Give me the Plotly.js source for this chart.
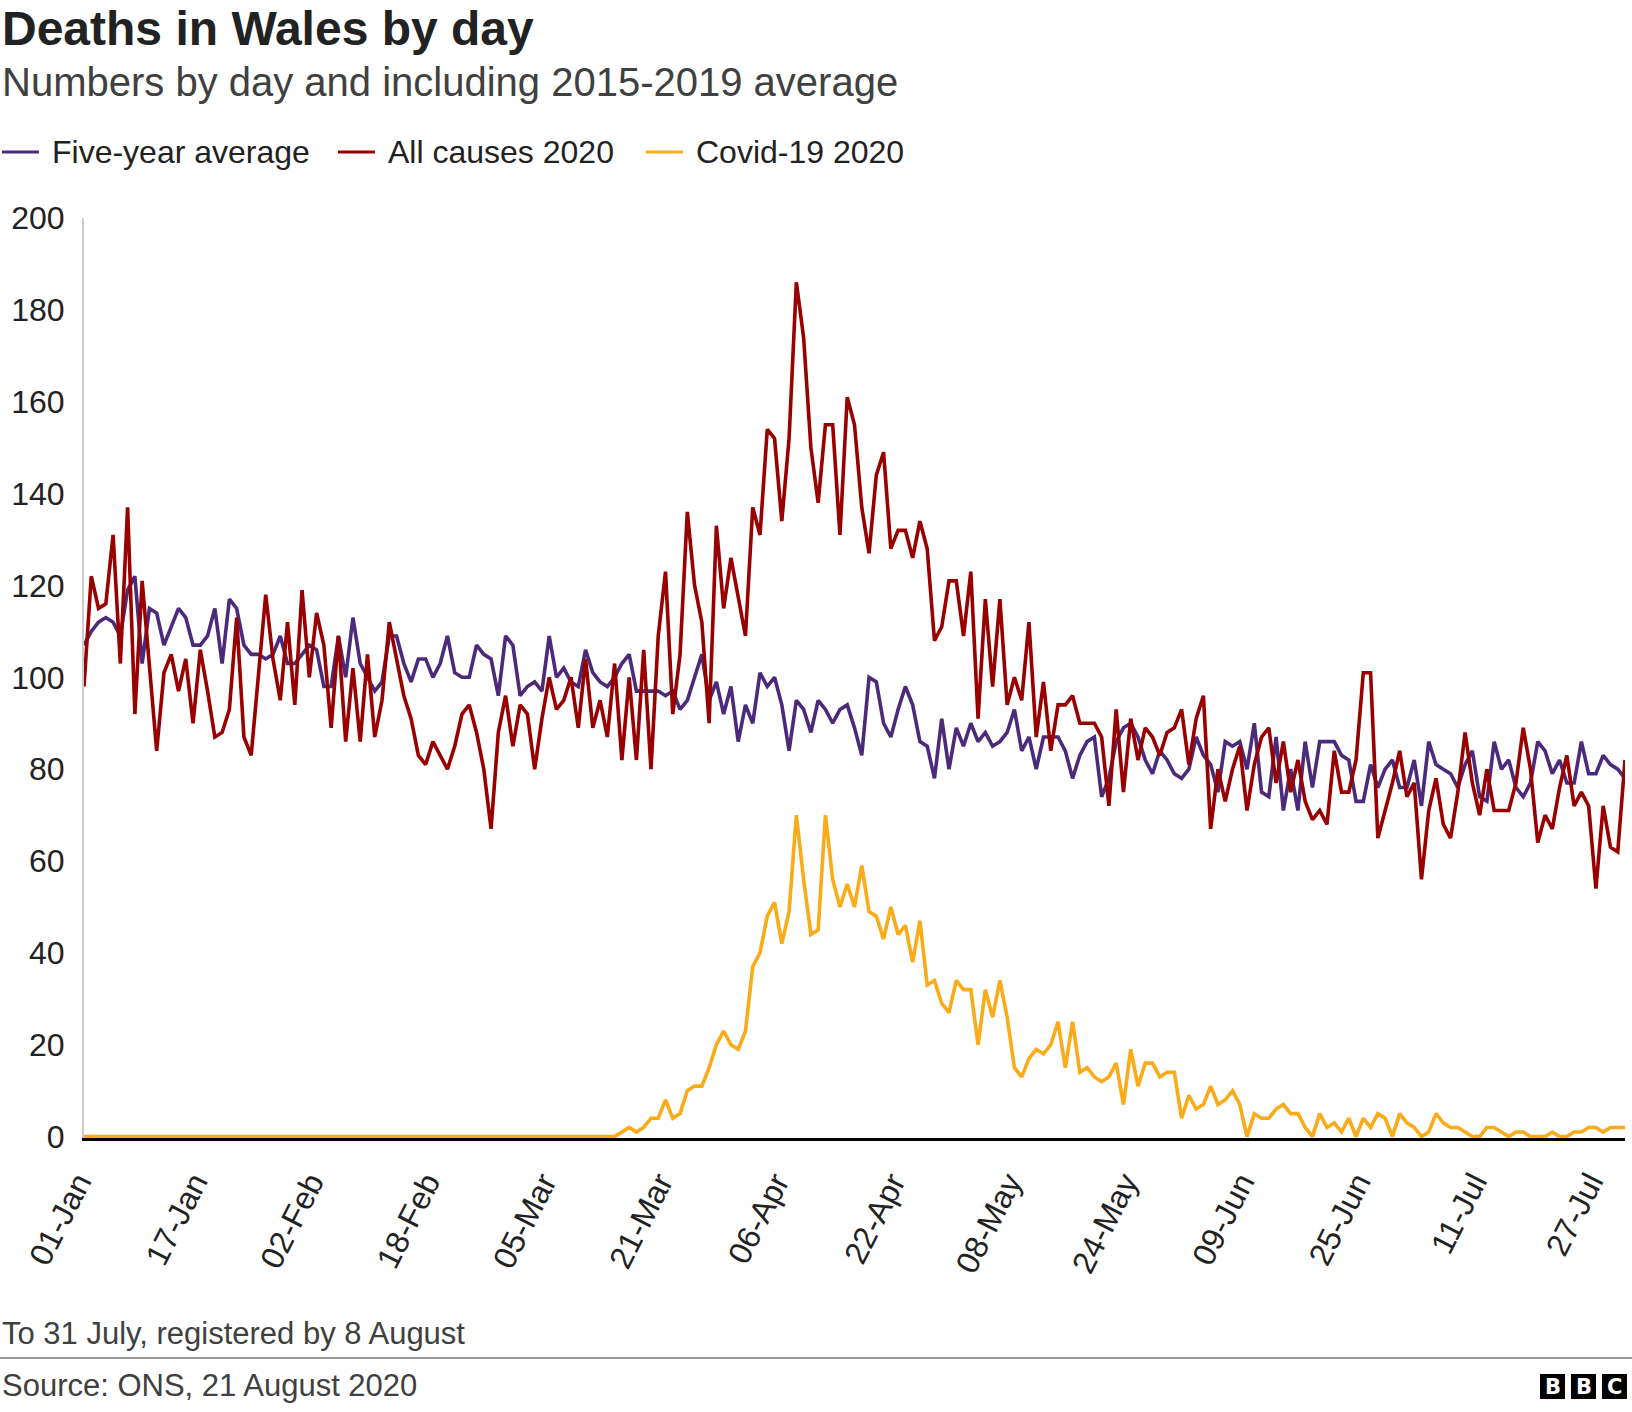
<!DOCTYPE html>
<html>
<head>
<meta charset="utf-8">
<script src="https://cdn.plot.ly/plotly-3.0.1.min.js"></script>
<style>
  html, body { margin: 0; padding: 0; background: #ffffff; }
  #chart { width: 1632px; height: 1412px; }
</style>
</head>
<body>
<div id="chart"></div>
<script>
// daily deaths in Wales, 1 Jan - 31 Jul 2020
var tickDates = ['2020-01-01', '2020-01-17', '2020-02-02', '2020-02-18', '2020-03-05',
  '2020-03-21', '2020-04-06', '2020-04-22', '2020-05-08', '2020-05-24',
  '2020-06-09', '2020-06-25', '2020-07-11', '2020-07-27'];
var tickLabels = ['01-Jan', '17-Jan', '02-Feb', '18-Feb', '05-Mar', '21-Mar', '06-Apr',
  '22-Apr', '08-May', '24-May', '09-Jun', '25-Jun', '11-Jul', '27-Jul'];

var fiveYearAverage = [
  107, 110, 112, 113, 112, 109, 119, 122, 103, 115, 114, 107, 111, 115, 113, 107,
  107, 109, 115, 103, 117, 115, 107, 105, 105, 104, 105, 109, 103, 103, 105, 107,
  106, 98, 98, 109, 100, 113, 103, 100, 97, 99, 109, 109, 103, 99, 104, 104,
  100, 103, 109, 101, 100, 100, 107, 105, 104, 96, 109, 107, 96, 98, 99, 97,
  109, 100, 102, 99, 98, 106, 101, 99, 98, 100, 103, 105, 97, 97, 97, 97,
  96, 97, 93, 95, 100, 105, 95, 99, 92, 98, 86, 94, 90, 101, 98, 100,
  94, 84, 95, 93, 88, 95, 93, 90, 93, 94, 89, 83, 100, 99, 90, 87,
  93, 98, 94, 86, 85, 78, 91, 80, 89, 85, 90, 86, 88, 85, 86, 88,
  93, 84, 87, 80, 87, 87, 87, 84, 78, 83, 86, 87, 74, 78, 86, 89,
  90, 87, 82, 79, 84, 82, 79, 78, 80, 87, 83, 81, 75, 86, 85, 86,
  80, 90, 75, 74, 87, 71, 80, 71, 86, 76, 86, 86, 86, 83, 82, 73,
  73, 81, 76, 80, 82, 76, 76, 82, 72, 86, 81, 80, 79, 76, 81, 84,
  74, 73, 86, 80, 82, 76, 74, 77, 86, 84, 79, 82, 77, 77, 86, 79,
  79, 83, 81, 80, 78
];

var allCauses2020 = [
  98, 122, 115, 116, 131, 103, 137, 92, 121, 103, 84, 101, 105, 97, 104, 90,
  106, 97, 87, 88, 93, 113, 87, 83, 100, 118, 104, 95, 112, 94, 119, 100,
  114, 107, 89, 109, 86, 102, 86, 105, 87, 95, 112, 104, 96, 91, 83, 81,
  86, 83, 80, 85, 92, 94, 88, 80, 67, 88, 96, 85, 94, 92, 80, 91,
  100, 93, 95, 100, 89, 104, 89, 95, 87, 103, 82, 100, 82, 106, 80, 109,
  123, 92, 105, 136, 120, 112, 90, 133, 115, 126, 117, 109, 137, 131, 154, 152,
  134, 152, 186, 174, 150, 138, 155, 155, 131, 161, 155, 137, 127, 144, 149, 128,
  132, 132, 126, 134, 128, 108, 111, 121, 121, 109, 123, 91, 117, 98, 117, 94,
  100, 95, 112, 87, 99, 84, 94, 94, 96, 90, 90, 90, 87, 72, 93, 75,
  91, 82, 89, 87, 83, 88, 89, 93, 81, 91, 96, 67, 80, 73, 80, 85,
  71, 81, 87, 89, 77, 86, 75, 82, 73, 69, 71, 68, 84, 75, 75, 82,
  101, 101, 65, 71, 77, 84, 74, 77, 56, 71, 78, 68, 65, 75, 88, 77,
  70, 80, 71, 71, 71, 77, 89, 80, 64, 70, 67, 76, 83, 72, 75, 72,
  54, 72, 63, 62, 82
];

var covid2020 = [
  0, 0, 0, 0, 0, 0, 0, 0, 0, 0, 0, 0, 0, 0, 0, 0,
  0, 0, 0, 0, 0, 0, 0, 0, 0, 0, 0, 0, 0, 0, 0, 0,
  0, 0, 0, 0, 0, 0, 0, 0, 0, 0, 0, 0, 0, 0, 0, 0,
  0, 0, 0, 0, 0, 0, 0, 0, 0, 0, 0, 0, 0, 0, 0, 0,
  0, 0, 0, 0, 0, 0, 0, 0, 0, 0, 1, 2, 1, 2, 4, 4,
  8, 4, 5, 10, 11, 11, 15, 20, 23, 20, 19, 23, 37, 40, 48, 51,
  42, 49, 70, 56, 44, 45, 70, 56, 50, 55, 50, 59, 49, 48, 43, 50,
  44, 46, 38, 47, 33, 34, 29, 27, 34, 32, 32, 20, 32, 26, 34, 26,
  15, 13, 17, 19, 18, 20, 25, 15, 25, 14, 15, 13, 12, 13, 16, 7,
  19, 11, 16, 16, 13, 14, 14, 4, 9, 6, 7, 11, 7, 8, 10, 7,
  0, 5, 4, 4, 6, 7, 5, 5, 2, 0, 5, 2, 3, 1, 4, 0,
  4, 2, 5, 4, 0, 5, 3, 2, 0, 1, 5, 3, 2, 2, 1, 0,
  0, 2, 2, 1, 0, 1, 1, 0, 0, 0, 1, 0, 0, 1, 1, 2,
  2, 1, 2, 2, 2
];

// one date per day from 1 January
var days = [];
var first = Date.UTC(2020, 0, 1);
for (var i = 0; i < allCauses2020.length; i++) {
  days.push(new Date(first + i * 86400000).toISOString().slice(0, 10));
}

var W = 1632, H = 1412, L = 84, R = 7, T = 218, B = 274;
// page pixels -> paper coords, for the text around the plot
function px(x) { return (x - L) / (W - L - R); }
function py(y) { return (H - B - y) / (H - T - B); }

var FONT = 'Liberation Sans, Arial, Helvetica, sans-serif';

var traces = [
  {x: days, y: fiveYearAverage, name: 'Five-year average',
   mode: 'lines', type: 'scatter', showlegend: false,
   line: {color: '#4b2a7b', width: 3.6}},
  {x: days, y: allCauses2020, name: 'All causes 2020',
   mode: 'lines', type: 'scatter', showlegend: false,
   line: {color: '#990000', width: 3.6}},
  {x: days, y: covid2020, name: 'Covid-19 2020',
   mode: 'lines', type: 'scatter', showlegend: false,
   line: {color: '#fbab18', width: 3.6}}
];

var annotations = [
  {text: '<b>Deaths in Wales by day</b>', x: px(0), y: py(29),
   font: {size: 48, color: '#222222'}},
  {text: 'Numbers by day and including 2015-2019 average', x: px(0), y: py(82),
   font: {size: 40, color: '#404040'}},
  {text: 'To 31 July, registered by 8 August', x: px(0), y: py(1333),
   font: {size: 31, color: '#404040'}},
  {text: 'Source: ONS, 21 August 2020', x: px(0), y: py(1385),
   font: {size: 31, color: '#404040'}}
];

var shapes = [
  {type: 'line', xref: 'paper', yref: 'paper', x0: px(0), x1: px(W), y0: py(1358), y1: py(1358),
   line: {color: '#9a9a9a', width: 2}}
];

// legend drawn by hand so the spacing matches the BBC style
var legendLeft = [2, 338, 646];
traces.forEach(function(t, k) {
  var lx = legendLeft[k];
  shapes.push({type: 'line', xref: 'paper', yref: 'paper',
    x0: px(lx), x1: px(lx + 37), y0: py(152), y1: py(152),
    line: {color: t.line.color, width: 3}});
  annotations.push({text: t.name, x: px(lx + 48), y: py(152),
    font: {size: 32, color: '#222222'}});
});

annotations.forEach(function(a) {
  a.xref = 'paper'; a.yref = 'paper';
  a.xanchor = 'left'; a.yanchor = 'middle';
  a.showarrow = false;
});

// BBC blocks
var letters = ['B', 'B', 'C'];
for (var k = 0; k < 3; k++) {
  var bx = 1540 + k * 31;
  shapes.push({type: 'rect', xref: 'paper', yref: 'paper',
    x0: px(bx), x1: px(bx + 25), y0: py(1399), y1: py(1374),
    fillcolor: '#000000', line: {width: 0}});
  annotations.push({text: '<b>' + letters[k] + '</b>', xref: 'paper', yref: 'paper',
    x: px(bx + 12.5), y: py(1387), xanchor: 'center', yanchor: 'middle',
    showarrow: false, font: {size: 21, color: '#ffffff', family: 'DejaVu Sans, sans-serif'}});
}

var layout = {
  width: W, height: H,
  margin: {l: L, r: R, t: T, b: B},
  paper_bgcolor: '#ffffff', plot_bgcolor: '#ffffff',
  font: {family: FONT, color: '#222222', size: 32},
  showlegend: false,
  xaxis: {
    type: 'date', range: [days[0], days[days.length - 1]],
    tickmode: 'array', tickvals: tickDates, ticktext: tickLabels,
    tickangle: -63, tickfont: {size: 32, color: '#222222'},
    showgrid: false, zeroline: false,
    showline: true, linecolor: '#000000', linewidth: 3,
    ticks: '', ticklabelstandoff: 10, ticklabelshift: -6, layer: 'below traces'
  },
  yaxis: {
    range: [-0.3, 200], tickmode: 'array',
    tickvals: [0, 20, 40, 60, 80, 100, 120, 140, 160, 180, 200],
    tickfont: {size: 32, color: '#222222'},
    showgrid: false, zeroline: false,
    showline: true, linecolor: '#cccccc', linewidth: 2,
    ticks: '', ticklabelstandoff: 11, layer: 'below traces'
  },
  annotations: annotations,
  shapes: shapes
};

Plotly.newPlot('chart', traces, layout, {staticPlot: true});
</script>
</body>
</html>
